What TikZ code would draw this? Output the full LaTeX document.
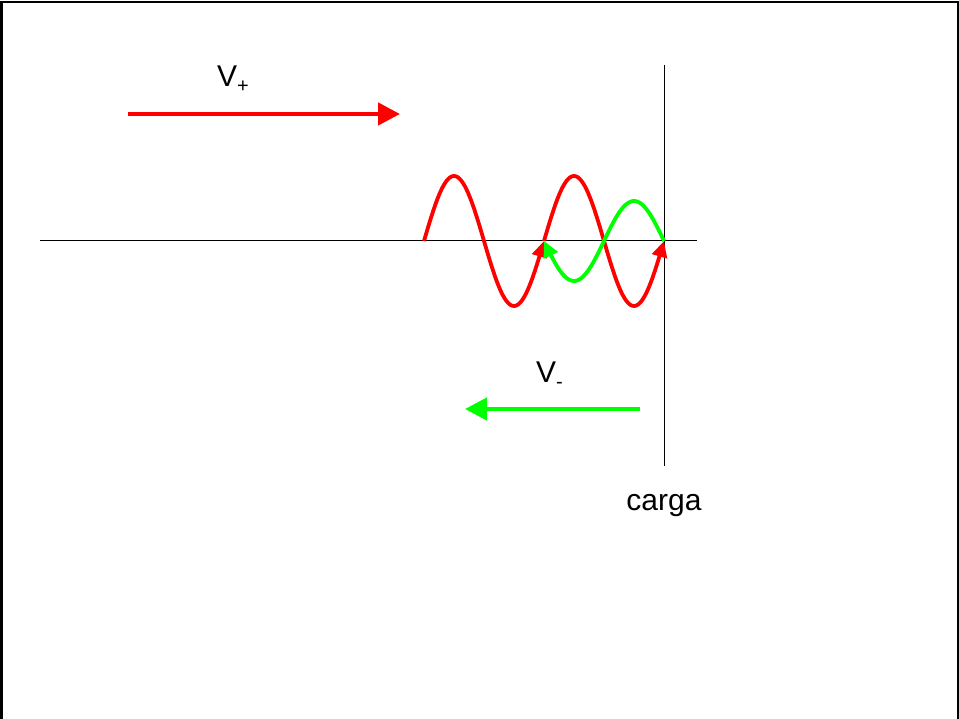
\documentclass[tikz,border=0pt]{standalone}
\usepackage{fontspec}
\setmainfont{Liberation Sans}
\usetikzlibrary{arrows.meta}
\definecolor{wred}{RGB}{255,0,0}
\definecolor{wgreen}{RGB}{0,255,0}
\newcommand{\mysub}[1]{\raisebox{-6pt}{\fontsize{20}{20}\selectfont #1}}
\begin{document}
\begin{tikzpicture}[x=1pt,y=-1pt,
  bigarrow/.style={line width=4.5pt,-{Triangle[length=22pt,width=22pt]}},
  wave/.style={line width=3.8pt,line join=round,-{Triangle[length=16pt,width=15pt]}},
  lbl/.style={inner sep=0pt,font=\fontsize{30}{31}\selectfont}]
\useasboundingbox (0,0) rectangle (959,719);
\fill[white] (0,0) rectangle (959,719);
% frame
\draw[line width=2.5pt] (1.25,719) -- (1.25,2) -- (957.75,2) -- (957.75,719);
% axes
\coordinate (axL) at (40,241);
\coordinate (axR) at (697,241);
\coordinate (ldT) at (664,65);
\coordinate (ldB) at (664,466);
\draw[line width=1pt] (axL) -- (axR);
\draw[line width=1pt] (ldT) -- (ldB);
% red incident wave
\draw[wred,wave] plot[domain=424:544,samples=80] (\x,{241-65*sin(3*(\x-424))});
\draw[wred,wave] plot[domain=544:664,samples=80] (\x,{241-65*sin(3*(\x-424))});
% green reflected wave
\draw[wgreen,wave] plot[domain=664:544,samples=80] (\x,{241-40*sin(3*(664-\x))});
% V+ arrow
\coordinate (vpS) at (128,114);
\coordinate (vpE) at (400,114);
\draw[wred,bigarrow] (vpS) -- (vpE);
\node[lbl,anchor=base west] (vplus) at (217,87) {V\mysub{+}};
% V- arrow
\coordinate (vmS) at (640,409);
\coordinate (vmE) at (465,409);
\draw[wgreen,bigarrow] (vmS) -- (vmE);
\node[lbl,anchor=base west] (vminus) at (536,382) {V\mysub{-}};
% load label
\node[lbl,anchor=base] (carga) at (664,510) {carga};
\end{tikzpicture}
\end{document}
